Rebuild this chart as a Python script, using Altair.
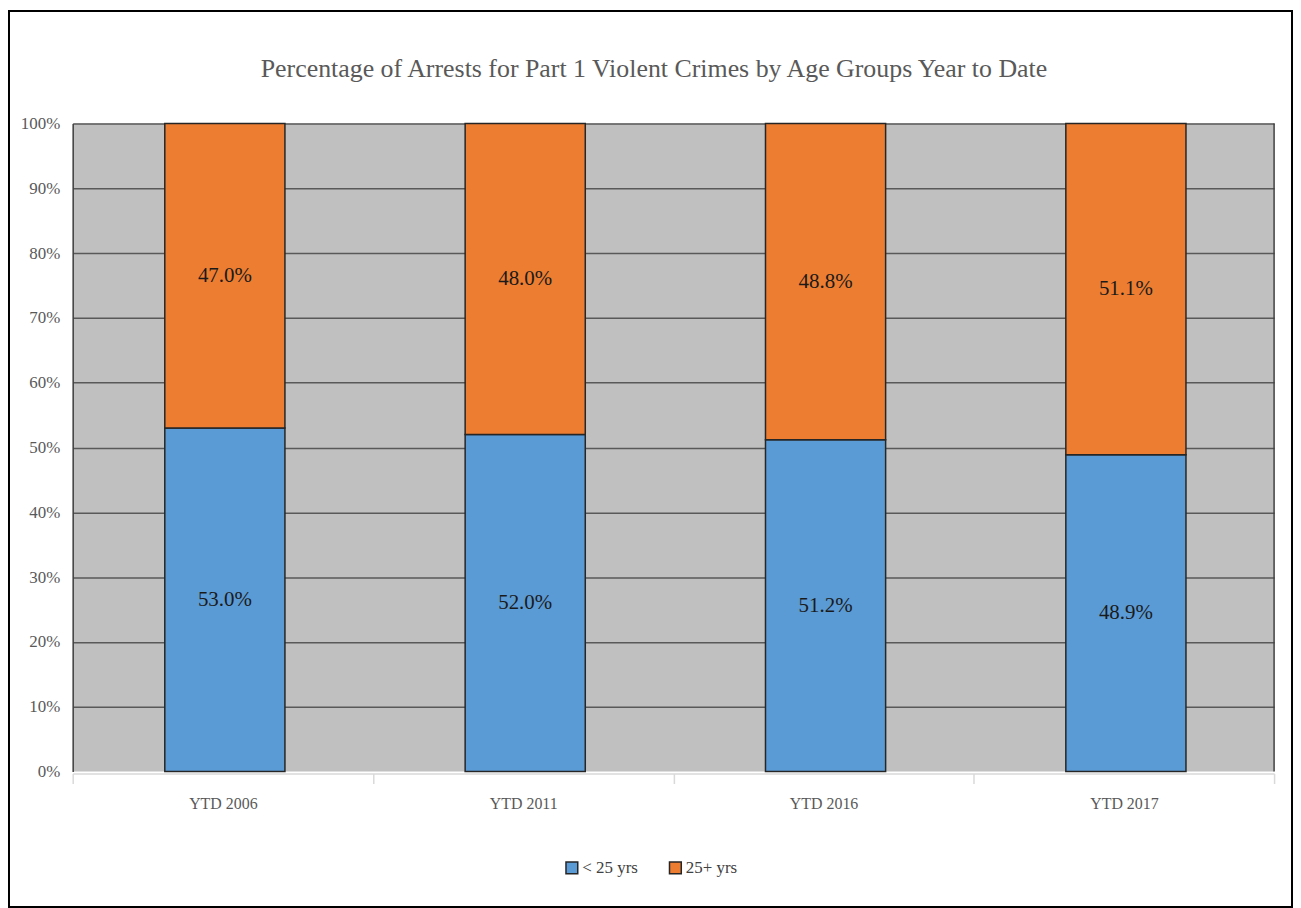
import altair as alt
import pandas as pd

categories = ["YTD 2006", "YTD 2011", "YTD 2016", "YTD 2017"]
groups = ["< 25 yrs", "25+ yrs"]
under_25 = [53.0, 52.0, 51.2, 48.9]
over_25 = [47.0, 48.0, 48.8, 51.1]
colors = ["#5b9bd5", "#ed7d31"]
y_ticks = [0, 0.1, 0.2, 0.3, 0.4, 0.5, 0.6, 0.7, 0.8, 0.9, 1.0]
title_text = ["Percentage of Arrests for Part 1 Violent Crimes by Age Groups Year to Date"]

FONT = "Liberation Serif"
W, H = 1207, 651
PL, PT, PR, PB = 65, 114, 19, 137

rows = []
for i, c in enumerate(categories):
    lo = 0.0
    for k, (g, vals) in enumerate(zip(groups, [under_25, over_25])):
        v = vals[i] / 100.0
        rows.append(dict(cat=c, group=g, order=k, start=lo, end=lo + v,
                         mid=lo + v / 2, label=f"{vals[i]:.1f}%"))
        lo += v
df = pd.DataFrame(rows)

x_enc = alt.X("cat:N", sort=categories,
              scale=alt.Scale(paddingInner=0, paddingOuter=0),
              axis=alt.Axis(title=None, labelFont=FONT, labelFontSize=16,
                            labelColor="#595959", labelAngle=0, labelPadding=12,
                            domainColor="#d9d9d9", domainWidth=1.5, offset=2,
                            ticks=True, tickColor="#d9d9d9", tickSize=10,
                            tickWidth=1.5, tickBand="extent"))

y_scale = alt.Scale(domain=[0, 1])

bars = alt.Chart(df).mark_bar(
    width=alt.RelativeBandSize(0.4), stroke="#262626", strokeWidth=1.5, xOffset=2
).encode(
    x=x_enc,
    y=alt.Y("start:Q", scale=y_scale,
            axis=alt.Axis(title=None, values=y_ticks, format=".0%",
                          labelFont=FONT, labelFontSize=17, labelColor="#595959",
                          ticks=False, labelPadding=13,
                          domainColor="#404040", domainWidth=1.5,
                          grid=True,
                          gridColor=alt.condition("datum.value === 0",
                                                  alt.value("transparent"),
                                                  alt.value("#595959")),
                          gridWidth=1.5)),
    y2="end:Q",
    color=alt.Color("group:N", scale=alt.Scale(domain=groups, range=colors),
                    legend=alt.Legend(title=None, orient="none", legendX=493,
                                      legendY=739, direction="horizontal",
                                      symbolType="square", symbolSize=140,
                                      symbolStrokeColor="#262626",
                                      symbolStrokeWidth=1.5,
                                      labelFont=FONT, labelFontSize=17,
                                      labelColor="#404040", columnPadding=28,
                                      labelOffset=2)),
    order=alt.Order("order:Q"),
)

labels = alt.Chart(df).mark_text(font=FONT, fontSize=21, color="#1a1a1a", dx=2).encode(
    x=alt.X("cat:N", sort=categories),
    y=alt.Y("mid:Q", scale=y_scale),
    text="label:N",
)

deco = pd.DataFrame({"k": [0]})
right_border = alt.Chart(deco).mark_rule(color="#404040", strokeWidth=1.5).encode(
    x=alt.value(W), y=alt.value(0), y2=alt.value(H)
)
frame = alt.Chart(deco).mark_rect(filled=False, stroke="#000000", strokeWidth=2).encode(
    x=alt.value(-PL + 1), x2=alt.value(W + PR - 1),
    y=alt.value(-PT + 1), y2=alt.value(H + PB - 1)
)
title = alt.Chart(pd.DataFrame({"t": title_text})).mark_text(
    font=FONT, fontSize=26, color="#595959", align="center", baseline="alphabetic"
).encode(x=alt.value(584), y=alt.value(-47), text="t:N")

chart = alt.layer(bars, labels, right_border, frame, title).properties(
    width=W, height=H,
    autosize=alt.AutoSizeParams(type="none"),
    padding={"left": PL, "top": PT, "right": PR, "bottom": PB},
).configure_view(stroke=None, fill="#c0c0c0")

chart.save("out.html", embed_options={"renderer": "svg", "actions": False})
